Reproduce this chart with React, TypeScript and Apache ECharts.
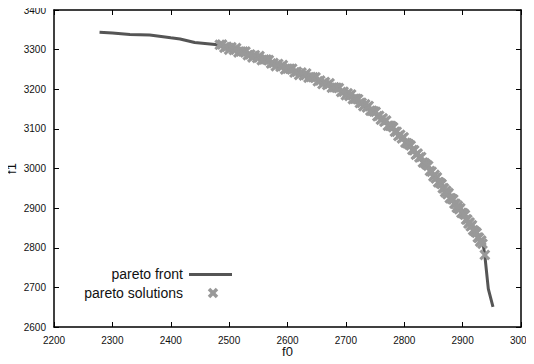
import React, { useEffect, useRef } from "react";
import * as echarts from "echarts";

const xTicks = [2200, 3000, 100];
const yTicks = [2600, 3400, 100];

const frontX = [2278, 2300, 2330, 2364, 2400, 2416, 2441, 2476, 2500, 2550, 2600, 2650, 2700, 2750, 2800, 2850, 2900, 2935, 2938, 2944, 2952];
const frontY = [3344, 3342, 3338, 3337, 3330, 3327, 3318, 3313, 3305, 3280, 3252, 3225, 3190, 3140, 3072, 2985, 2888, 2810, 2781, 2696, 2651];

const solX = [
  2484, 2488, 2492, 2496, 2500, 2504, 2508, 2512, 2516, 2520, 2524, 2528, 2532, 2536, 2540, 2544, 2548, 2552, 2556, 2560,
  2564, 2568, 2572, 2576, 2580, 2584, 2588, 2592, 2596, 2600, 2604, 2608, 2612, 2616, 2620, 2624, 2628, 2632, 2636, 2640,
  2644, 2648, 2652, 2656, 2660, 2664, 2668, 2672, 2676, 2680, 2684, 2688, 2692, 2696, 2700,
  2703, 2706, 2709, 2712, 2715, 2718, 2721, 2724, 2727, 2730, 2733, 2736, 2739, 2742, 2745, 2748, 2751, 2754, 2757, 2760,
  2763, 2766, 2769, 2772, 2775, 2778, 2781, 2784, 2787, 2790, 2793, 2796, 2799, 2802, 2805, 2808, 2811, 2814, 2817, 2820,
  2823, 2826, 2829, 2832, 2835, 2838, 2841, 2844, 2847, 2850,
  2852, 2854, 2856, 2858, 2860, 2862, 2864, 2866, 2868, 2870, 2872, 2874, 2876, 2878, 2880, 2882, 2884, 2886, 2888, 2890,
  2892, 2894, 2896, 2898, 2900, 2902, 2904, 2906, 2908, 2910, 2912, 2914, 2916, 2918, 2920, 2922, 2924, 2926, 2928, 2930,
  2932, 2934, 2938,
];
const solY = [
  3312, 3313, 3305, 3307, 3300, 3306, 3299, 3304, 3293, 3295, 3295, 3295, 3286, 3288, 3280, 3286, 3279, 3284, 3273, 3275,
  3275, 3274, 3265, 3266, 3258, 3264, 3257, 3261, 3250, 3252, 3252, 3252, 3242, 3244, 3236, 3242, 3235, 3240, 3229, 3231,
  3230, 3230, 3220, 3222, 3213, 3218, 3211, 3215, 3204, 3205, 3204, 3203, 3193, 3194, 3185,
  3190, 3183, 3187, 3175, 3176, 3176, 3175, 3165, 3166, 3157, 3162, 3154, 3158, 3146, 3146, 3144, 3143, 3132, 3133, 3123,
  3127, 3118, 3121, 3108, 3108, 3107, 3104, 3093, 3093, 3082, 3085, 3076, 3079, 3065, 3064, 3061, 3058, 3047, 3046, 3035,
  3038, 3028, 3029, 3015, 3014, 3010, 3007, 2994, 2992, 2980,
  2984, 2975, 2978, 2965, 2965, 2963, 2961, 2950, 2950, 2940, 2944, 2935, 2938, 2925, 2925, 2923, 2922, 2911, 2911, 2901,
  2906, 2897, 2900, 2888, 2888, 2886, 2883, 2871, 2871, 2861, 2864, 2854, 2857, 2844, 2843, 2840, 2838, 2826, 2825, 2815,
  2818, 2810, 2782,
];

const legendNames = ["pareto front", "pareto solutions"];

const FONT = "'Liberation Sans', Arial, Helvetica, sans-serif";
const X_PATH = "path://M2,0 L5,3 L8,0 L10,2 L7,5 L10,8 L8,10 L5,7 L2,10 L0,8 L3,5 L0,2 Z";

export default function App() {
  const ref = useRef<HTMLDivElement>(null);
  useEffect(() => {
    if (!ref.current) return;
    const chart = echarts.init(ref.current, undefined, { renderer: "svg" });
    const axisCommon = (show: boolean) => ({
      type: "value" as const,
      axisLine: { show: true, onZero: false, lineStyle: { color: "#000", width: 1.5 } },
      axisTick: { show: true, inside: true, length: 5, lineStyle: { color: "#000", width: 1 } },
      splitLine: { show: false },
      axisLabel: {
        show, color: "#111", fontSize: 10, fontFamily: FONT, margin: 8,
        formatter: (v: number) => String(v),
      },
    });
    chart.setOption({
      animation: false,
      backgroundColor: "#fff",
      grid: { left: 54, right: 13, top: 10, bottom: 37, containLabel: false, outerBoundsMode: "none" },
      xAxis: [
        {
          ...axisCommon(true),
          position: "bottom",
          min: xTicks[0], max: xTicks[1], interval: xTicks[2],
          name: "f0", nameLocation: "middle", nameGap: 18, nameMoveOverlap: false,
          nameTextStyle: { fontSize: 13, fontFamily: FONT, color: "#111" },
        },
        { ...axisCommon(false), position: "top", min: xTicks[0], max: xTicks[1], interval: xTicks[2] },
      ],
      yAxis: [
        {
          ...axisCommon(true),
          position: "left",
          min: yTicks[0], max: yTicks[1], interval: yTicks[2],
          name: "f1", nameLocation: "middle", nameGap: 36, nameMoveOverlap: false,
          nameTextStyle: { fontSize: 13, fontFamily: FONT, color: "#111" },
        },
        { ...axisCommon(false), position: "right", min: yTicks[0], max: yTicks[1], interval: yTicks[2] },
      ],
      series: [
        {
          name: legendNames[0],
          type: "line",
          data: frontX.map((x, i) => [x, frontY[i]]),
          showSymbol: false,
          symbol: "none",
          lineStyle: { color: "#555", width: 3 },
          z: 1,
        },
        {
          name: legendNames[1],
          type: "scatter",
          data: solX.map((x, i) => [x, solY[i]]),
          symbol: X_PATH,
          symbolSize: 11,
          itemStyle: { color: "#999", opacity: 1 },
          z: 2,
        },
      ],
      graphic: [
        {
          type: "text", x: 183, y: 274,
          style: { text: legendNames[0], fontSize: 14, fontFamily: FONT, fill: "#111", align: "right", verticalAlign: "middle" },
        },
        {
          type: "line", shape: { x1: 189, y1: 274.5, x2: 232, y2: 274.5 },
          style: { stroke: "#555", lineWidth: 3 },
        },
        {
          type: "text", x: 183, y: 293,
          style: { text: legendNames[1], fontSize: 14, fontFamily: FONT, fill: "#111", align: "right", verticalAlign: "middle" },
        },
        {
          type: "line", shape: { x1: 209, y1: 289, x2: 217, y2: 297 },
          style: { stroke: "#999", lineWidth: 3.5 },
        },
        {
          type: "line", shape: { x1: 217, y1: 289, x2: 209, y2: 297 },
          style: { stroke: "#999", lineWidth: 3.5 },
        },
      ],
    });
    return () => chart.dispose();
  }, []);
  return <div ref={ref} style={{ width: 534, height: 364, margin: -8 }} />;
}
